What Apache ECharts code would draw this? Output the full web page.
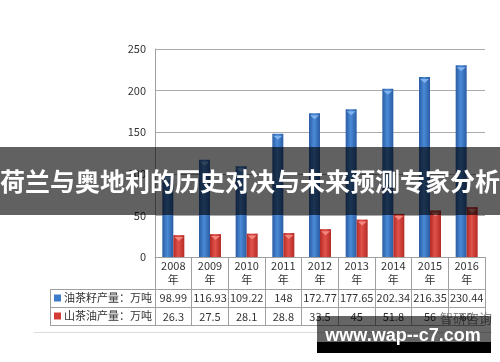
<!DOCTYPE html>
<html><head><meta charset="utf-8">
<script src="https://cdn.jsdelivr.net/npm/echarts@6/dist/echarts.min.js"></script>
<style>html,body{margin:0;padding:0;background:#fff}#c{width:500px;height:362px}</style>
</head><body><div id="c"></div>
<script>
const years = ['2008','2009','2010','2011','2012','2013','2014','2015','2016'];
const seedOutput = [98.99,116.93,109.22,148,172.77,177.65,202.34,216.35,230.44];
const oilOutput = [26.3,27.5,28.1,28.8,33.5,45,51.8,56,60];
const seedLabel = ['98.99','116.93','109.22','148','172.77','177.65','202.34','216.35','230.44'];
const oilLabel = ['26.3','27.5','28.1','28.8','33.5','45','51.8','56','60'];
const seriesNames = ['油茶籽产量：万吨','山茶油产量：万吨'];
const yTicks = {min:0,max:250,interval:50};
const title = '荷兰与奥地利的历史对决与未来预测专家分析';
const watermark = 'www.wap--c7.com';

const font = '"Noto Sans CJK SC","Liberation Sans",sans-serif';
function grad(edge, mid){
  return new echarts.graphic.LinearGradient(0,0,1,0,[
    {offset:0,color:edge},{offset:0.45,color:mid},{offset:1,color:edge}]);
}
const blue = grad('#2a5ca3','#4a8ad6');
const red = grad('#b52a25','#e0524a');

const chart = echarts.init(document.getElementById('c'),null,{renderer:'canvas'});
const lineCol = '#a0a0a0';
chart.setOption({
  animation:false,
  backgroundColor:'#fff',
  textStyle:{fontFamily:font},
  grid:{left:155,right:15,top:49,bottom:105},
  legend:{
    orient:'vertical',left:54,top:291,padding:0,itemGap:4,
    itemWidth:7,itemHeight:7,icon:'rect',
    data:[{name:seriesNames[0],itemStyle:{color:'#3d7cc9'}},{name:seriesNames[1],itemStyle:{color:'#d23c35'}}],
    textStyle:{fontSize:11,color:'#333',lineHeight:14,padding:[0,0,0,-2]}
  },
  xAxis:{
    type:'category',data:years,boundaryGap:true,
    axisLine:{show:true,lineStyle:{color:lineCol}},
    axisTick:{show:true,interval:0,length:68,lineStyle:{color:lineCol}},
    axisLabel:{
      interval:0,margin:2,color:'#333',
      formatter:function(v,i){
        return '{y|'+v+'}\n{n|年}\n{a|'+seedLabel[i]+'}\n{b|'+oilLabel[i]+'}';
      },
      rich:{
        y:{fontSize:11,lineHeight:14,color:'#333',fontFamily:font},
        n:{fontSize:11,lineHeight:14,color:'#333',fontFamily:font},
        a:{fontSize:11,lineHeight:22,color:'#333',fontFamily:font},
        b:{fontSize:11,lineHeight:16,color:'#333',fontFamily:font}
      }
    }
  },
  yAxis:{
    type:'value',min:yTicks.min,max:yTicks.max,interval:yTicks.interval,
    axisLine:{show:true,lineStyle:{color:lineCol}},
    axisTick:{show:false},
    axisLabel:{margin:9,fontSize:11,color:'#333'},
    splitLine:{lineStyle:{color:'#ababab'}}
  },
  series:[
    {name:seriesNames[0],type:'bar',data:seedOutput,barWidth:11,barGap:'0%',itemStyle:{color:blue}},
    {name:seriesNames[1],type:'bar',data:oilOutput,barWidth:11,barGap:'0%',itemStyle:{color:red}},
    {name:'cap1',type:'pictorialBar',data:seedOutput,symbol:'triangle',symbolRotate:180,symbolSize:[9,4],
     symbolPosition:'end',symbolOffset:[0,'50%'],barWidth:11,barGap:'0%',z:5,itemStyle:{color:'#7fb2ee'}},
    {name:'cap2',type:'pictorialBar',data:oilOutput,symbol:'triangle',symbolRotate:180,symbolSize:[9,4],
     symbolPosition:'end',symbolOffset:[0,'50%'],barWidth:11,barGap:'0%',z:5,itemStyle:{color:'#f28880'}}
  ],
  graphic:[
    {type:'line',shape:{x1:50,y1:289.5,x2:485,y2:289.5},style:{stroke:lineCol,lineWidth:1}},
    {type:'line',shape:{x1:50,y1:307.5,x2:485,y2:307.5},style:{stroke:lineCol,lineWidth:1}},
    {type:'line',shape:{x1:50,y1:325.5,x2:485,y2:325.5},style:{stroke:lineCol,lineWidth:1}},
    {type:'line',shape:{x1:50.5,y1:289,x2:50.5,y2:326},style:{stroke:lineCol,lineWidth:1}},
    {type:'line',shape:{x1:34,y1:332.5,x2:492,y2:332.5},style:{stroke:'#dcdcdc',lineWidth:1}},
    {type:'rect',z:100,shape:{x:0,y:147,width:500,height:68},style:{fill:'rgba(0,0,0,0.62)'}},
    {type:'text',z:101,x:250,y:181,style:{text:title,fill:'#fff',font:'bold 25px '+font,textAlign:'center',textVerticalAlign:'middle'}},
    {type:'text',z:99,x:466,y:318,style:{text:'智研咨询',fill:'#888',font:'13px '+font,textAlign:'center',textVerticalAlign:'middle'}},
    {type:'rect',z:100,shape:{x:317,y:316,width:174,height:26},style:{fill:'rgba(0,0,0,0.6)'}},
    {type:'rect',z:100,shape:{x:317,y:342,width:174,height:11},style:{fill:'#000'}},
    {type:'text',z:101,x:403,y:336,style:{text:watermark,fill:'#fff',font:'bold 18px "Liberation Sans",sans-serif',textAlign:'center',textVerticalAlign:'middle'}}
  ]
});
</script></body></html>
